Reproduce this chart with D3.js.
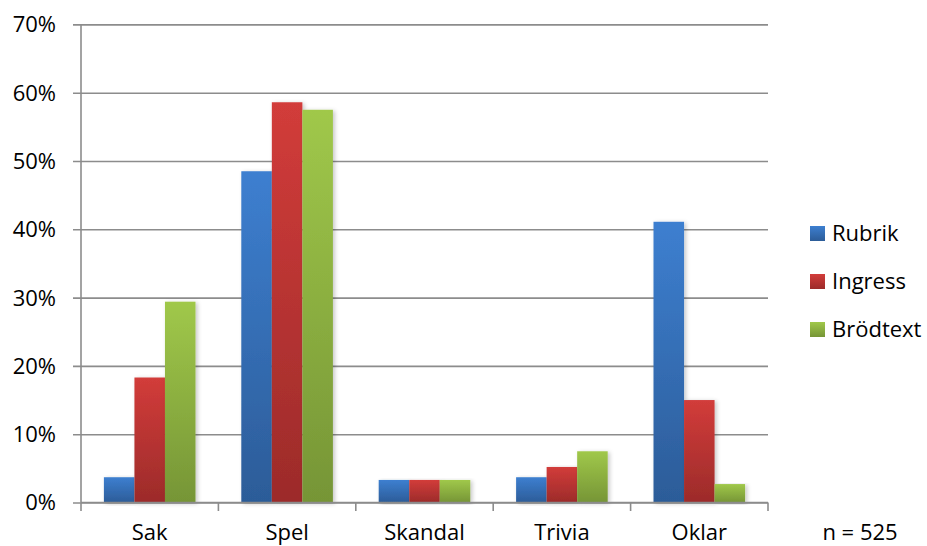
<!DOCTYPE html>
<html>
<head>
<meta charset="utf-8">
<script src="https://cdn.jsdelivr.net/npm/d3@7"></script>
<style>
  html, body { margin: 0; padding: 0; background: #fff; }
  svg { display: block; }
  text { font-family: "Open Sans", sans-serif; fill: #000; }
</style>
</head>
<body>
<svg id="chart" width="927" height="546"></svg>
<script>
// Share of articles per category, by text part (n = 525)
const categories = ["Sak", "Spel", "Skandal", "Trivia", "Oklar"];
const seriesNames = ["Rubrik", "Ingress", "Brödtext"];
const rubrik   = [0.037, 0.485, 0.033, 0.037, 0.411];
const ingress  = [0.183, 0.586, 0.033, 0.052, 0.150];
const brodtext = [0.294, 0.575, 0.033, 0.075, 0.027];
const yTicks = [0, 0.1, 0.2, 0.3, 0.4, 0.5, 0.6, 0.7];
const note = "n = 525";

const seriesValues = [rubrik, ingress, brodtext];
const colors = [
  { top: "#3d7fd0", bottom: "#2c5c98" },
  { top: "#d23c3a", bottom: "#9c2b2a" },
  { top: "#a0c84a", bottom: "#769536" }
];

const svg = d3.select("#chart");
const plot = { left: 81, right: 768, top: 24.4, bottom: 502.5 };

const x0 = d3.scaleBand().domain(categories).range([plot.left, plot.right]).padding(0);
const step = x0.step();
const barW = step / 4.5;
const x1 = d3.scaleBand().domain(seriesNames).range([0.75 * barW, step - 0.75 * barW]).padding(0);
const y = d3.scaleLinear().domain([0, 0.7]).range([plot.bottom, plot.top]);

// gradients and shadow
const defs = svg.append("defs");
colors.forEach((c, i) => {
  const g = defs.append("linearGradient").attr("id", "grad" + i)
    .attr("x1", 0).attr("y1", 0).attr("x2", 0).attr("y2", 1);
  g.append("stop").attr("offset", "0%").attr("stop-color", c.top);
  g.append("stop").attr("offset", "100%").attr("stop-color", c.bottom);
});
const f = defs.append("filter").attr("id", "shadow")
  .attr("x", "-20%").attr("y", "-5%").attr("width", "150%").attr("height", "115%");
f.append("feDropShadow").attr("dx", 2).attr("dy", 1).attr("stdDeviation", 2)
  .attr("flood-color", "#000").attr("flood-opacity", 0.22);

// horizontal gridlines with left ticks
const gridColor = "#8c8c8c";
const yAxis = d3.axisLeft(y).tickValues(yTicks)
  .tickSize(plot.right - plot.left + 8)
  .tickFormat(d => Math.round(d * 100) + "%");
const gy = svg.append("g").attr("transform", `translate(${plot.right},0)`).call(yAxis);
gy.select(".domain").remove();
gy.selectAll(".tick line").attr("stroke", gridColor).attr("stroke-width", 1.6);
gy.selectAll(".tick text")
  .attr("x", -(plot.right - 56))
  .attr("dy", "0.34em")
  .style("font-size", "22px")
  .style("font-family", "'Open Sans', sans-serif")
  .attr("fill", "#000");

// bars
const groups = svg.append("g").selectAll("g")
  .data(categories)
  .join("g")
  .attr("transform", d => `translate(${x0(d)},0)`);

groups.selectAll("rect")
  .data((c, ci) => seriesNames.map((s, si) => ({ s, si, v: seriesValues[si][ci] })))
  .join("rect")
  .attr("x", d => x1(d.s))
  .attr("width", x1.bandwidth())
  .attr("y", d => y(d.v))
  .attr("height", d => y(0) - y(d.v))
  .attr("fill", d => `url(#grad${d.si})`)
  .attr("filter", "url(#shadow)");

// y axis line
svg.append("line")
  .attr("x1", plot.left).attr("x2", plot.left)
  .attr("y1", plot.top).attr("y2", plot.bottom)
  .attr("stroke", gridColor).attr("stroke-width", 1.6);

// x axis with category boundary ticks
const xAxis = d3.axisBottom(x0).tickSize(0).tickFormat("");
const gx = svg.append("g").attr("transform", `translate(0,${plot.bottom})`).call(xAxis);
gx.select(".domain").attr("stroke", gridColor).attr("stroke-width", 1.6)
  .attr("d", `M${plot.left},0H${plot.right}`);
const bounds = categories.map(c => x0(c)).concat([plot.right]);
gx.selectAll(".bound").data(bounds).join("line")
  .attr("class", "bound")
  .attr("x1", d => d).attr("x2", d => d)
  .attr("y1", 0).attr("y2", 8.5)
  .attr("stroke", gridColor).attr("stroke-width", 1.6);

// category labels
svg.append("g").selectAll("text")
  .data(categories)
  .join("text")
  .attr("x", d => x0(d) + step / 2)
  .attr("y", 540)
  .attr("text-anchor", "middle")
  .style("font-size", "22px")
  .text(d => d);

// sample size note
svg.append("text")
  .attr("x", 860).attr("y", 540)
  .attr("text-anchor", "middle")
  .style("font-size", "22px")
  .text(note);

// legend
const legend = svg.append("g").selectAll("g")
  .data(seriesNames)
  .join("g")
  .attr("transform", (d, i) => `translate(810,${226 + i * 48})`);
legend.append("rect")
  .attr("width", 15).attr("height", 15)
  .attr("fill", (d, i) => `url(#grad${i})`);
legend.append("text")
  .attr("x", 22).attr("y", 15)
  .style("font-size", "22px")
  .text(d => d);
</script>
</body>
</html>
